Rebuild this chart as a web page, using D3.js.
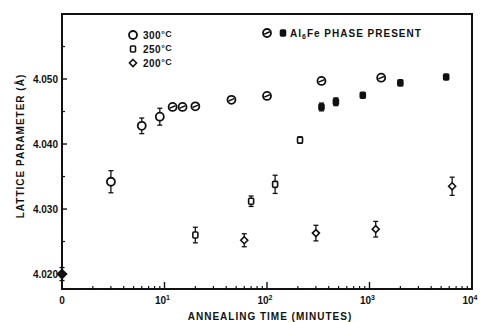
<!DOCTYPE html>
<html>
<head>
<meta charset="utf-8">
<script src="https://cdn.jsdelivr.net/npm/d3@7"></script>
<style>
  body { margin: 0; background: #fff; }
  text { font-family: "Liberation Sans", Arial, sans-serif; font-weight: bold; fill: #111; }
</style>
</head>
<body>
<div id="chart"></div>
<script>
// data (time in minutes, lattice parameter in Å)
var startTime = [1];            // plotted at the "0" position
var startValue = [4.020];
var startErr = [0.0010];

var t300 = [3, 6, 9];
var v300 = [4.0342, 4.0428, 4.0442];
var e300 = [0.0017, 0.0012, 0.0013];

var t300Al = [12, 15, 20, 45, 100, 340, 1300];
var v300Al = [4.0457, 4.0457, 4.0458, 4.0468, 4.0474, 4.0497, 4.0502];

var t250 = [20, 70, 120, 210];
var v250 = [4.0260, 4.0312, 4.0338, 4.0406];
var e250 = [0.0012, 0.0008, 0.0014, 0.0005];

var t250Al = [340, 470, 860, 2000, 5600];
var v250Al = [4.0457, 4.0465, 4.0475, 4.0494, 4.0503];
var e250Al = [0.0006, 0.0006, 0, 0, 0];

var t200 = [60, 300, 1150, 6400];
var v200 = [4.0252, 4.0263, 4.0269, 4.0335];
var e200 = [0.0010, 0.0012, 0.0012, 0.0014];

var yTicks = [4.020, 4.030, 4.040, 4.050];
var yMinor = [4.025, 4.035, 4.045, 4.055];
var xLabels = ["0", "10", "10", "10", "10"];
var xExps = ["", "1", "2", "3", "4"];

var width = 480;
var height = 322;
var margins = { top: 14, bottom: 33, left: 62, right: 8 };

var svg = d3.select("#chart")
  .append("svg")
  .attr("width", width)
  .attr("height", height);

var x = d3.scaleLog()
  .domain([1, 1e4])
  .range([margins.left, width - margins.right]);
var y = d3.scaleLinear()
  .domain([4.0177, 4.060])
  .range([height - margins.bottom, margins.top]);

var ink = "#111";

// frame
svg.append("rect")
  .attr("x", x(1)).attr("y", y(4.060))
  .attr("width", x(1e4) - x(1))
  .attr("height", y(4.0177) - y(4.060))
  .attr("fill", "none").attr("stroke", ink).attr("stroke-width", 2);

// bottom ticks, pointing inward
var xMinor = [];
for (var k = 0; k < 4; k++) {
  for (var m = 2; m < 10; m++) xMinor.push(m * Math.pow(10, k));
}
var yb = y(4.0177);
svg.selectAll(".xminor")
  .data(xMinor).enter().append("line")
  .attr("x1", d => x(d)).attr("x2", d => x(d))
  .attr("y1", yb).attr("y2", yb - 3)
  .attr("stroke", ink).attr("stroke-width", 1.2);
svg.selectAll(".xmajor")
  .data([10, 100, 1000]).enter().append("line")
  .attr("x1", d => x(d)).attr("x2", d => x(d))
  .attr("y1", yb).attr("y2", yb - 7)
  .attr("stroke", ink).attr("stroke-width", 1.4);

var xl = svg.selectAll(".xlab")
  .data(d3.range(5)).enter().append("text")
  .attr("x", d => x(Math.pow(10, d)) + (d === 0 ? 0 : -2))
  .attr("y", 304)
  .attr("text-anchor", "middle")
  .attr("font-size", 10);
xl.append("tspan").text(d => xLabels[d]);
xl.append("tspan")
  .attr("font-size", 7).attr("dy", -4)
  .text(d => xExps[d]);

// left ticks, pointing inward
var xa = x(1);
svg.selectAll(".ymajor")
  .data(yTicks).enter().append("line")
  .attr("x1", xa).attr("x2", xa + 5)
  .attr("y1", d => y(d)).attr("y2", d => y(d))
  .attr("stroke", ink).attr("stroke-width", 1.4);
svg.selectAll(".yminor")
  .data(yMinor).enter().append("line")
  .attr("x1", xa).attr("x2", xa + 3)
  .attr("y1", d => y(d)).attr("y2", d => y(d))
  .attr("stroke", ink).attr("stroke-width", 1.2);
svg.selectAll(".ylab")
  .data(yTicks).enter().append("text")
  .attr("x", 58).attr("y", d => y(d) + 3.5)
  .attr("text-anchor", "end")
  .attr("font-size", 10)
  .text(d => d.toFixed(3));

// axis titles
svg.append("text")
  .attr("x", 270).attr("y", 320)
  .attr("text-anchor", "middle")
  .attr("font-size", 10)
  .attr("letter-spacing", 1)
  .text("ANNEALING TIME (MINUTES)");
svg.append("text")
  .attr("transform", "translate(24,146) rotate(-90)")
  .attr("text-anchor", "middle")
  .attr("font-size", 10)
  .attr("letter-spacing", 1)
  .text("LATTICE  PARAMETER (Å)");

// markers
function errBars(ts, vs, es) {
  var d = ts.map((t, i) => ({ t: t, v: vs[i], e: es[i] })).filter(p => p.e > 0);
  var g = svg.append("g").attr("stroke", ink).attr("stroke-width", 1.3);
  g.selectAll(".eb").data(d).enter().append("line")
    .attr("x1", p => x(p.t)).attr("x2", p => x(p.t))
    .attr("y1", p => y(p.v - p.e)).attr("y2", p => y(p.v + p.e));
  g.selectAll(".ct").data(d).enter().append("line")
    .attr("x1", p => x(p.t) - 2.5).attr("x2", p => x(p.t) + 2.5)
    .attr("y1", p => y(p.v + p.e)).attr("y2", p => y(p.v + p.e));
  g.selectAll(".cb").data(d).enter().append("line")
    .attr("x1", p => x(p.t) - 2.5).attr("x2", p => x(p.t) + 2.5)
    .attr("y1", p => y(p.v - p.e)).attr("y2", p => y(p.v - p.e));
}

function circle(g, cx, cy) {
  g.append("circle").attr("cx", cx).attr("cy", cy).attr("r", 4)
    .attr("fill", "#fff").attr("stroke", ink).attr("stroke-width", 1.8);
}
function slashCircle(g, cx, cy) {
  circle(g, cx, cy);
  g.append("line")
    .attr("x1", cx - 2.8).attr("y1", cy + 1.2)
    .attr("x2", cx + 2.8).attr("y2", cy - 1.2)
    .attr("stroke", ink).attr("stroke-width", 1.5);
}
function square(g, cx, cy, filled) {
  g.append("rect").attr("x", cx - 2.5).attr("y", cy - 3)
    .attr("width", 5).attr("height", 6).attr("rx", 1)
    .attr("fill", filled ? ink : "#fff")
    .attr("stroke", ink).attr("stroke-width", 1.6);
}
function diamond(g, cx, cy, filled, s) {
  s = s || 3.5;
  g.append("path")
    .attr("d", `M${cx},${cy - s}L${cx + s},${cy}L${cx},${cy + s}L${cx - s},${cy}Z`)
    .attr("fill", filled ? ink : "#fff")
    .attr("stroke", ink).attr("stroke-width", 1.6);
}

errBars(startTime, startValue, startErr);
errBars(t300, v300, e300);
errBars(t250, v250, e250);
errBars(t250Al, v250Al, e250Al);
errBars(t200, v200, e200);

var pts = svg.append("g");
t300.forEach((t, i) => circle(pts, x(t), y(v300[i])));
t300Al.forEach((t, i) => slashCircle(pts, x(t), y(v300Al[i])));
t250.forEach((t, i) => square(pts, x(t), y(v250[i]), false));
t250Al.forEach((t, i) => square(pts, x(t), y(v250Al[i]), true));
t200.forEach((t, i) => diamond(pts, x(t), y(v200[i]), false));
startTime.forEach((t, i) => diamond(pts, x(t), y(startValue[i]), true, 4.5));

// legend
var leg = svg.append("g");
var legLabels = ["300", "250", "200"];
circle(leg, 133, 35);
square(leg, 133, 49, false);
diamond(leg, 133, 63, false);
legLabels.forEach(function(l, i) {
  var t = leg.append("text")
    .attr("x", 143).attr("y", 38.5 + i * 14)
    .attr("font-size", 10)
    .attr("letter-spacing", 0.5);
  t.append("tspan").text(l);
  t.append("tspan").attr("font-size", 9).attr("dy", -2).text("°C");
});

slashCircle(leg, 267, 33);
square(leg, 283, 33, true);
var al = leg.append("text")
  .attr("x", 290).attr("y", 36.5)
  .attr("font-size", 10)
  .attr("letter-spacing", 1);
al.append("tspan").text("Al");
al.append("tspan").attr("font-size", 7).attr("dy", 2).text("6");
al.append("tspan").attr("dy", -2).text("Fe PHASE PRESENT");
</script>
</body>
</html>
